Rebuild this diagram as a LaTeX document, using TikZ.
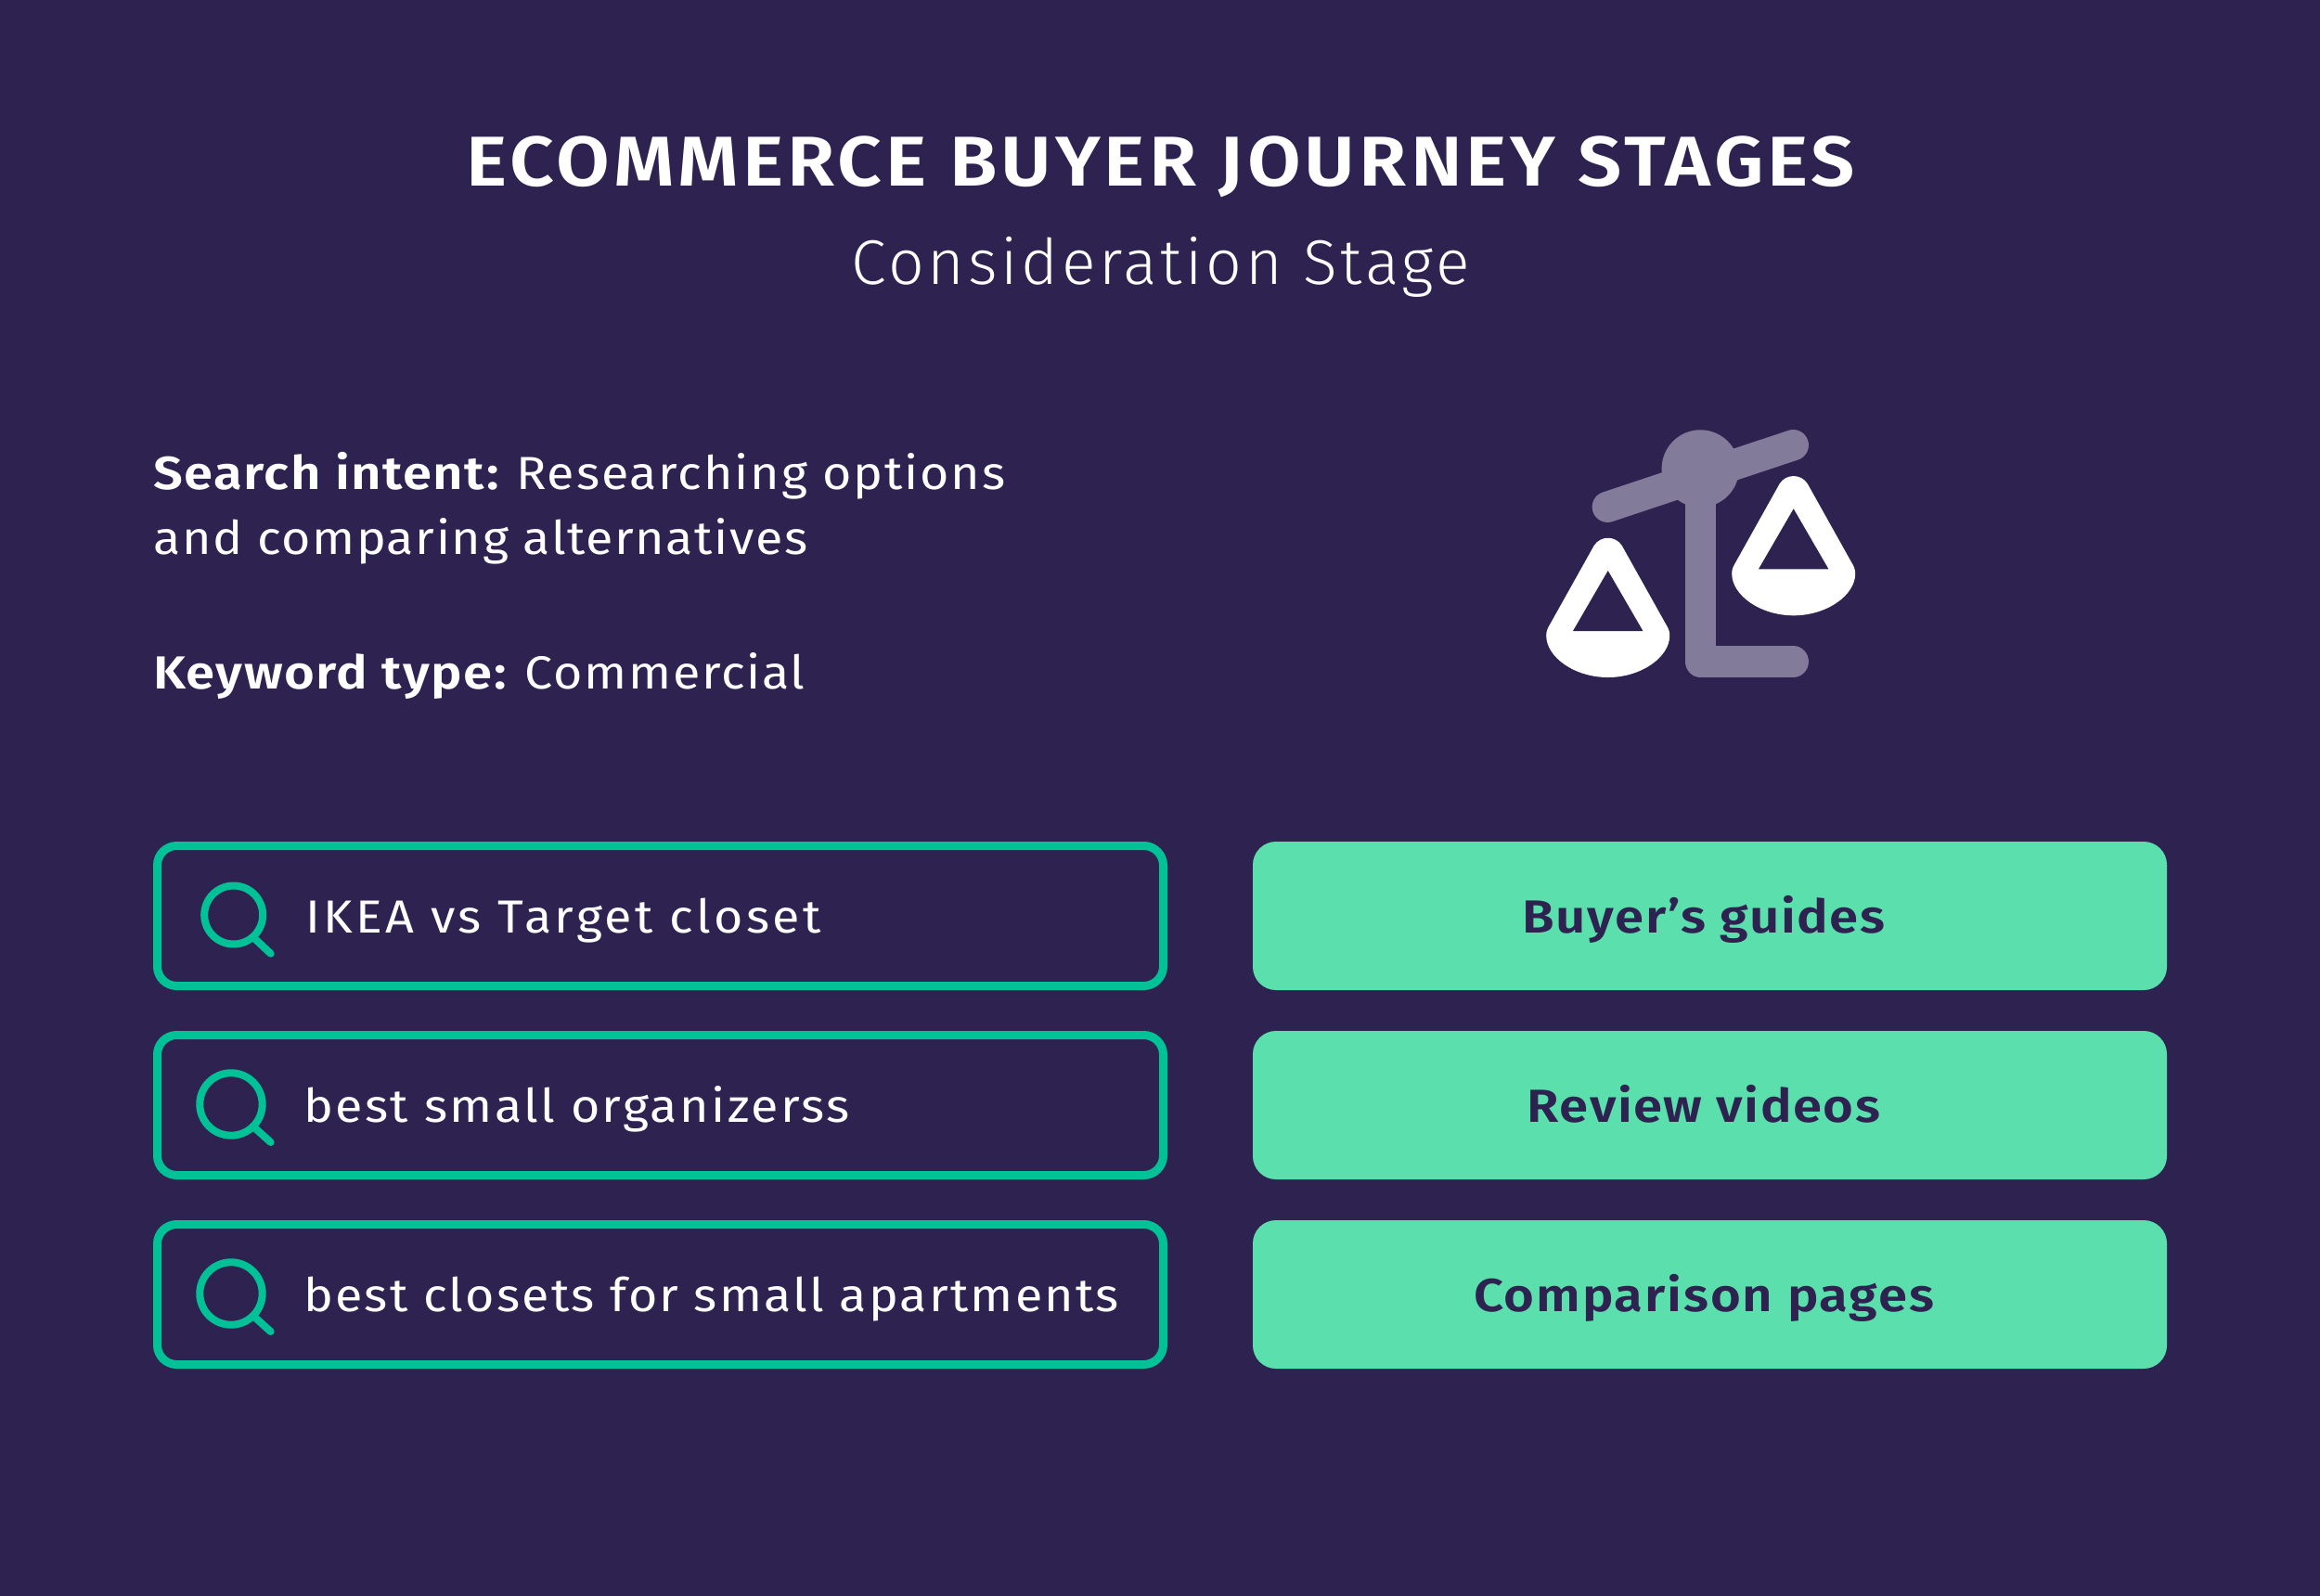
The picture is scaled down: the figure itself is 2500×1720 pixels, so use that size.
\documentclass[tikz,border=0pt]{standalone}
\usepackage{fontspec}
\setmainfont{Fira Sans}
\newfontfamily\titlef[LetterSpace=5.3,FakeStretch=1.1,UprightFont=* SemiBold]{Fira Sans}
\newfontfamily\subf[LetterSpace=5.4,UprightFont=* Light]{Fira Sans}
\newfontfamily\bodyf[LetterSpace=4,FakeStretch=1.076]{Fira Sans}
\newfontfamily\boldf[LetterSpace=3,FakeStretch=1.125,UprightFont=* SemiBold]{Fira Sans}
\newcommand{\lsp}[1]{\addfontfeature{LetterSpace=#1}}
\definecolor{bg}{HTML}{2E2350}
\definecolor{teal}{HTML}{00C296}
\definecolor{mint}{HTML}{5BE0AD}
\definecolor{grayp}{HTML}{827B99}
\tikzset{
  txt/.style={anchor=base west,inner sep=0pt,text=white,font=\fontsize{50}{60}\selectfont\bodyf},
  boxl/.style={draw=teal,line width=9pt,rounded corners=21pt,fill=none},
  boxr/.style={fill=mint,rounded corners=25pt,draw=none},
  lab/.style={anchor=base,inner sep=0pt,text=bg,font=\fontsize{50}{60}\selectfont\boldf},
  glass/.style={draw=teal,line width=8pt,line cap=round},
  beam/.style={draw=grayp,line width=33.3pt,line cap=round,line join=round},
}
\newcommand{\pan}[2]{%
\begin{scope}[shift={(#1,#2)}]
 \fill[white] (-15,8) .. controls (-8,-3) and (8,-3) .. (15,8) -- (62,92) .. controls (65,97) and (66.5,100) .. (66.5,105)
   .. controls (66.5,128) and (36,150) .. (0,150) .. controls (-36,150) and (-66.5,128) .. (-66.5,105)
   .. controls (-66.5,100) and (-65,97) .. (-62,92) -- cycle;
 \fill[bg] (0,35) -- (37.7,100) -- (-37.7,100) -- cycle;
\end{scope}}
\begin{document}
\begin{tikzpicture}[x=1pt,y=-1pt]
\useasboundingbox (0,0) rectangle (2500,1720);
\fill[bg] (0,0) rectangle (2500,1720);
\node[anchor=base,inner sep=0pt,text=white,font=\fontsize{76}{90}\selectfont\titlef] (title) at (1251,201) {ECOMMERCE BUYER JOURNEY STAGES};
\node[anchor=base,inner sep=0pt,text=white,font=\fontsize{68}{80}\selectfont\subf] (subtitle) at (1251,306) {Consideration Stage};
\node[txt] (intent1) at (165,527) {{\boldf Search intent:}\hspace{-3pt} {\lsp{3.7}Researching options}};
\node[txt] (intent2) at (165,597) {\lsp{3.15}and comparing alternatives};
\node[txt] (kw) at (165,742) {{\boldf Keyword type:}\hspace{-1.6pt} {\lsp{3.4}Commercial}};
% scale icon
\draw[beam] (1732.3,546.3) -- (1932.3,479.7);
\fill[grayp] (1832.3,505) circle (41.7);
\draw[beam] (1832.3,505) -- (1832.3,713) -- (1932.3,713);
\pan{1732.7}{580}
\pan{1932.7}{513.3}
% left boxes
\draw[boxl] (169.5,911.5) rectangle (1253.5,1062.5);
\draw[boxl] (169.5,1115.5) rectangle (1253.5,1266.5);
\draw[boxl] (169.5,1319.5) rectangle (1253.5,1470.5);
\draw[glass] (251.7,986) circle (31.5);
\draw[glass] (275,1012) -- (291.7,1027.7);
\draw[glass] (249,1190) circle (33.7);
\draw[glass] (274,1215) -- (291.7,1231);
\draw[glass] (249,1394) circle (33.7);
\draw[glass] (274,1419) -- (291.7,1435);
\node[txt] (q1) at (329,1005) {\lsp{6.8}IKEA vs Target closet};
\node[txt] (q2) at (327,1209) {\lsp{4.9}best small organizerss};
\node[txt] (q3) at (327,1413) {\lsp{4.4}best closets for small apartments};
% right boxes
\fill[boxr] (1350,907) rectangle (2335,1067);
\fill[boxr] (1350,1111) rectangle (2335,1271);
\fill[boxr] (1350,1315) rectangle (2335,1475);
\node[lab] (r1) at (1836,1005) {Buyer’s guides};
\node[lab] (r2) at (1836,1209) {Review videos};
\node[lab] (r3) at (1836,1413) {\lsp{3.7}Comparison pages};
\end{tikzpicture}
\end{document}
